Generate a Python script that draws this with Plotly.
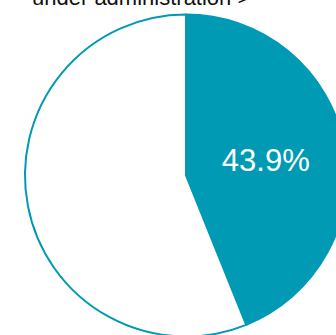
import plotly.graph_objects as go

labels = ["Under administration", "Other"]
values = [43.9, 56.1]
slice_colors = ["#009AB4", "#FFFFFF"]
slice_text = [f"{values[0]:.1f}%", ""]

W, H = 350, 340

fig = go.Figure(
    go.Pie(
        labels=labels,
        values=values,
        text=slice_text,
        textinfo="text",
        textposition="inside",
        insidetextorientation="horizontal",
        insidetextfont=dict(family="Liberation Sans, Arial, sans-serif", size=31, color="#FFFFFF"),
        sort=False,
        direction="clockwise",
        rotation=0,
        marker=dict(colors=slice_colors, line=dict(color="#009AB4", width=2)),
        showlegend=False,
        hoverinfo="label+percent",
    )
)

fig.update_layout(
    width=W,
    height=H,
    margin=dict(l=25, r=3, t=14, b=3),
    paper_bgcolor="#FFFFFF",
    plot_bgcolor="#FFFFFF",
    annotations=[
        dict(
            text="under administration >",
            xref="paper",
            yref="paper",
            x=0.36,
            y=1,
            yshift=2,
            xanchor="center",
            yanchor="bottom",
            showarrow=False,
            font=dict(family="Liberation Sans, Arial, sans-serif", size=22, color="#111111"),
        )
    ],
)

fig.write_html("out.html")
